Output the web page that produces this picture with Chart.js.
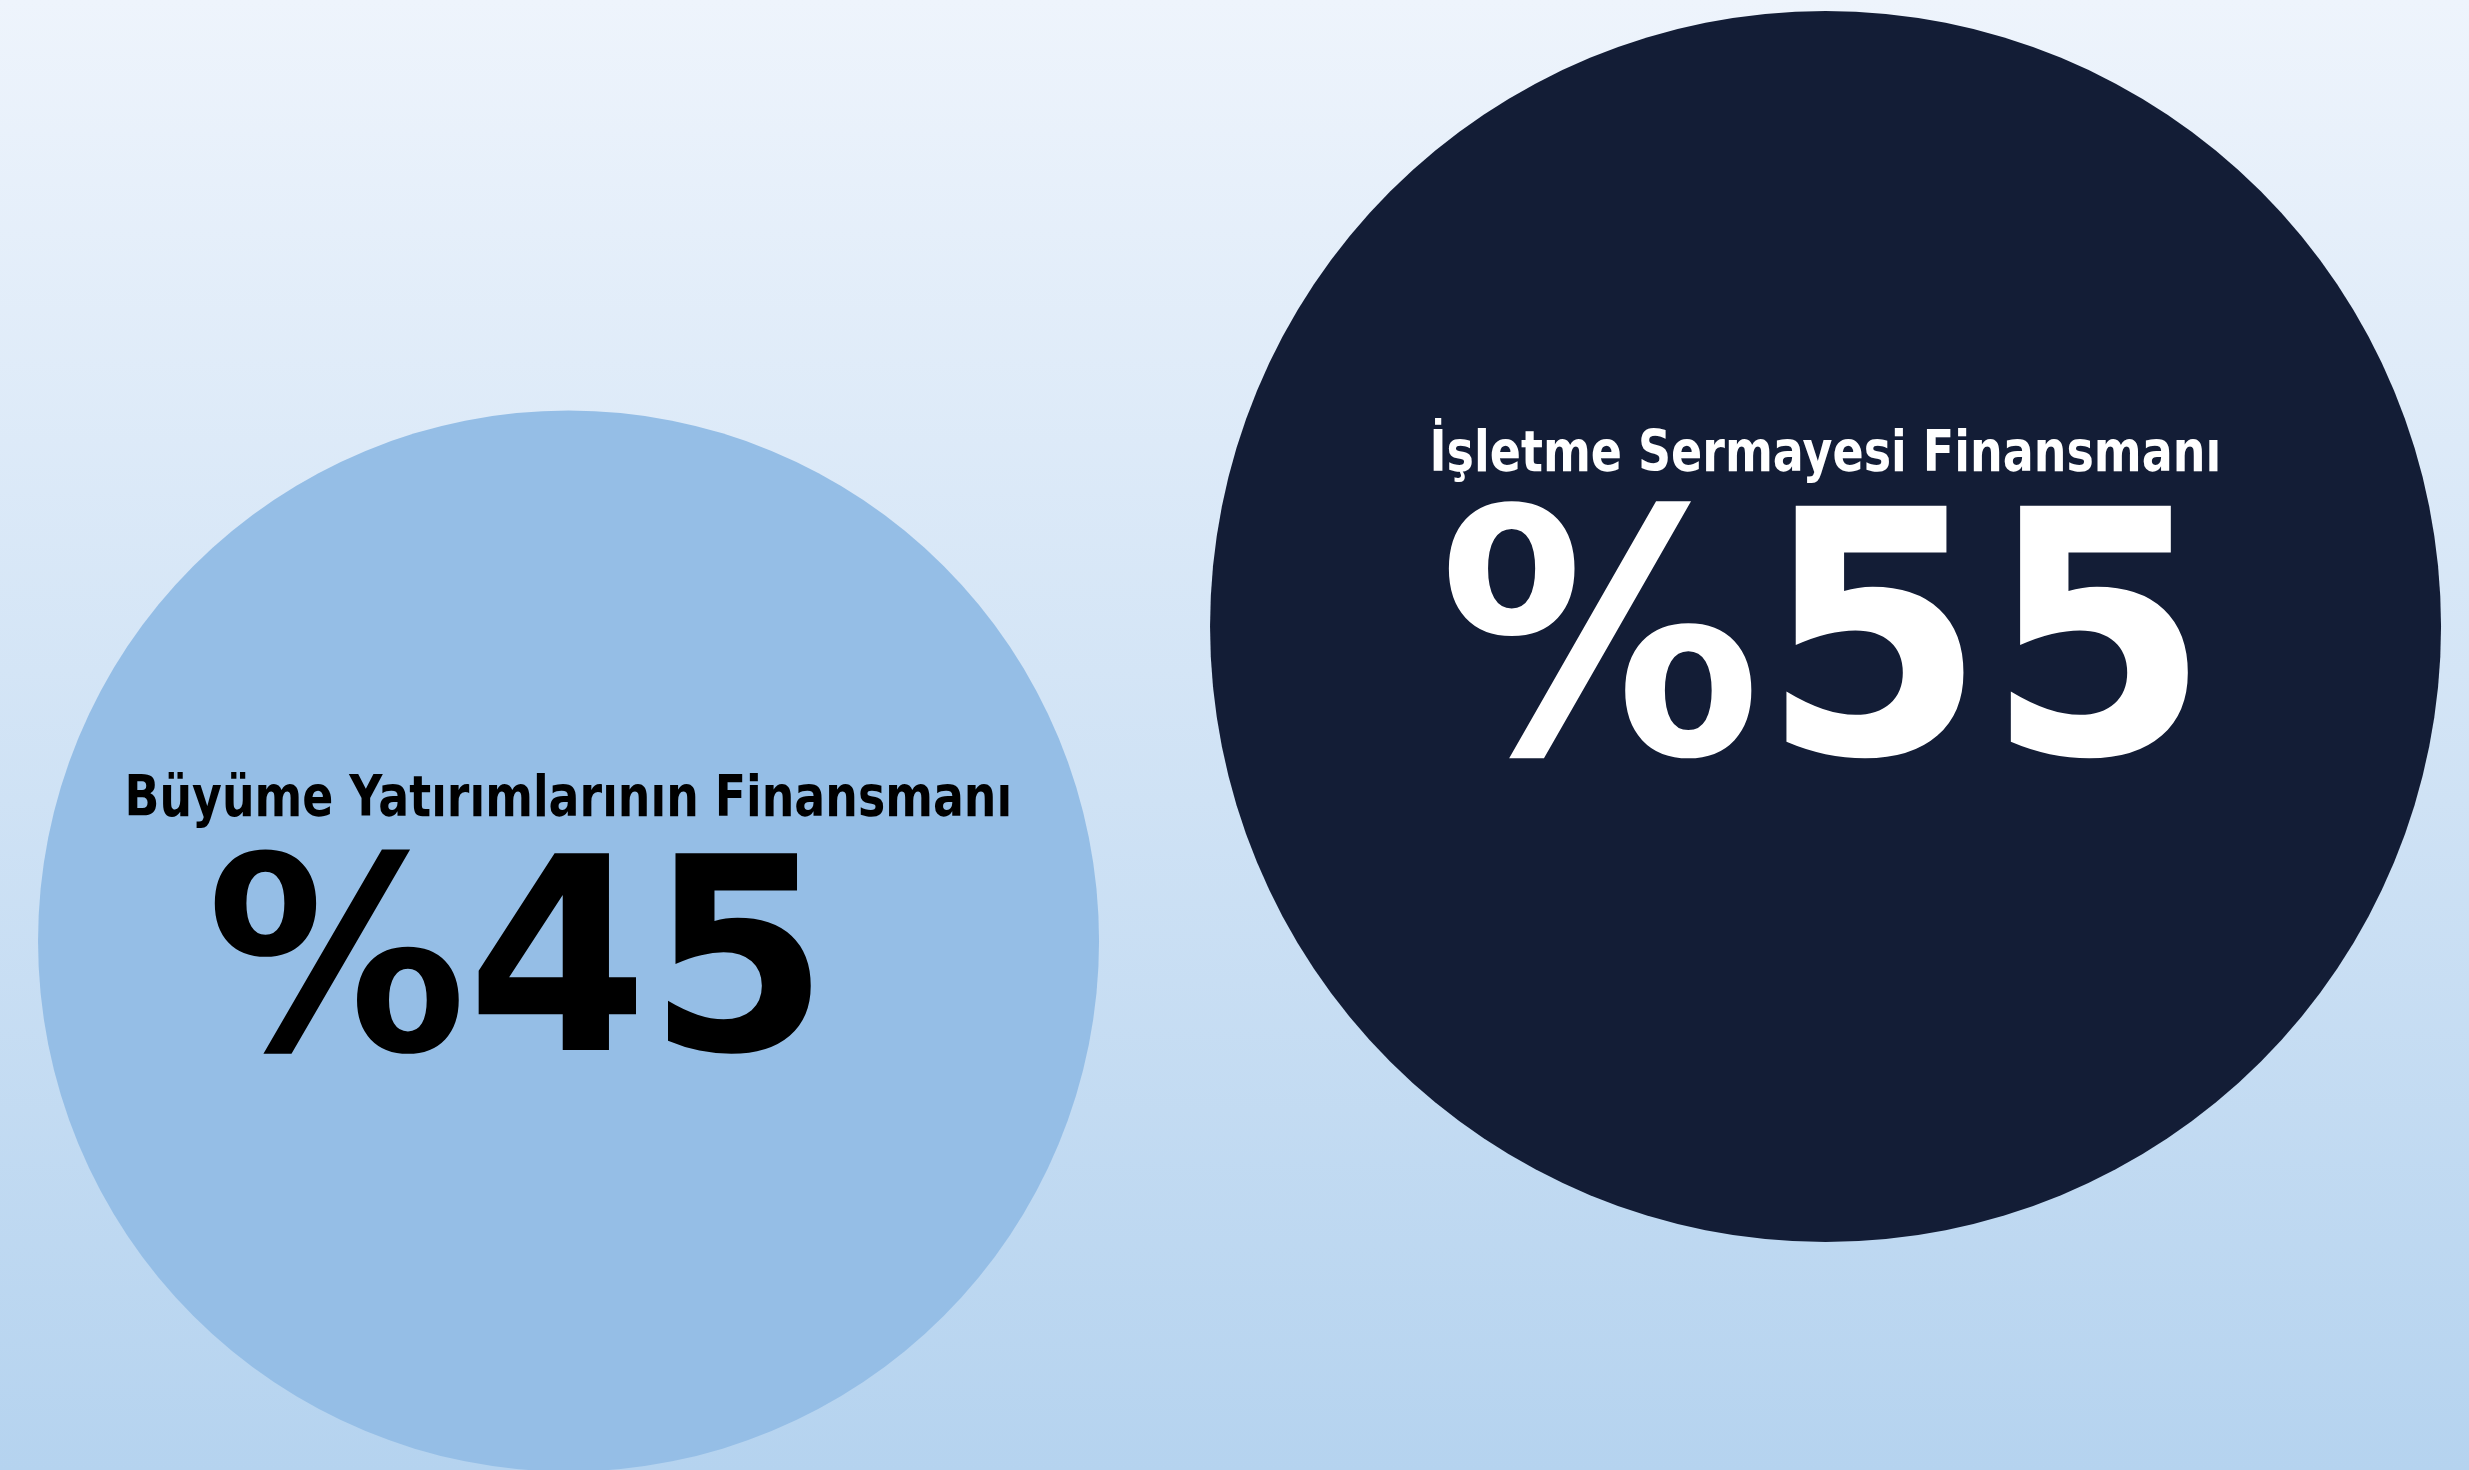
<!DOCTYPE html>
<html lang="tr">
<head>
<meta charset="utf-8">
<title>Finansman Dağılımı</title>
<script src="https://cdn.jsdelivr.net/npm/chart.js@4.4.1/dist/chart.umd.min.js"></script>
<style>
    html, body {
        margin: 0;
        padding: 0;
        width: 2469px;
        height: 1470px;
        overflow: hidden;
        background: linear-gradient(to bottom, #eef4fc 0%, #b5d3ef 100%);
    }
    #wrap {
        position: relative;
        width: 2469px;
        height: 1470px;
    }
</style>
</head>
<body>
<div id="wrap"><canvas id="shareChart"></canvas></div>
<script>
// Chart data
const categories = ['Büyüme Yatırımlarının Finansmanı', 'İşletme Sermayesi Finansmanı'];
const shares = [45, 55];

// Bubble styling (pixel radius, fill, text colour)
const bubbleRadius = [530.5, 615.5];
const bubbleColors = ['#95bee6', '#131d36'];
const textColors = ['#000000', '#ffffff'];

// Text layout relative to each bubble's centre
const textLayout = [
    { labelBase: -125, labelWidth: 880, bigBase: 109, bigSize: 270, bigWidth: 600, bigShift: -54 },
    { labelBase: -155, labelWidth: 784, bigBase: 127, bigSize: 340, bigWidth: 744, bigShift: -5 }
];

// Draws text stretched to a given ink width, centred on x
function drawStretched(ctx, text, cx, baseline, width) {
    const m = ctx.measureText(text);
    const ink = m.actualBoundingBoxLeft + m.actualBoundingBoxRight;
    const sx = width / ink;
    ctx.save();
    ctx.translate(cx, baseline);
    ctx.scale(sx, 1);
    ctx.textAlign = 'left';
    ctx.textBaseline = 'alphabetic';
    ctx.fillText(text, -ink / 2 + m.actualBoundingBoxLeft, 0);
    ctx.restore();
}

const bubbleText = {
    id: 'bubbleText',
    afterDatasetsDraw(chart) {
        const ctx = chart.ctx;
        const meta = chart.getDatasetMeta(0);
        meta.data.forEach((el, i) => {
            const lay = textLayout[i];
            ctx.save();
            ctx.fillStyle = textColors[i];
            ctx.font = 'bold 57px "DejaVu Sans"';
            drawStretched(ctx, categories[i], el.x, el.y + lay.labelBase, lay.labelWidth);
            ctx.font = 'bold ' + lay.bigSize + 'px "DejaVu Sans"';
            drawStretched(ctx, '%' + shares[i], el.x + lay.bigShift, el.y + lay.bigBase, lay.bigWidth);
            ctx.restore();
        });
    }
};

const ctx = document.getElementById('shareChart').getContext('2d');
Chart.defaults.animation = false;

new Chart(ctx, {
    type: 'bubble',
    data: {
        labels: categories,
        datasets: [{
            data: shares.map((v, i) => ({ x: i, y: v })),
            backgroundColor: bubbleColors,
            borderWidth: 0,
            radius: bubbleRadius,
            hoverRadius: 0
        }]
    },
    options: {
        responsive: true,
        maintainAspectRatio: false,
        events: [],
        layout: { padding: 0, autoPadding: false },
        clip: false,
        scales: {
            x: { type: 'linear', display: false, min: -0.4523, max: 1.5119 },
            y: { type: 'linear', display: false, min: 28.18, max: 74.92 }
        },
        plugins: {
            legend: { display: false },
            tooltip: { enabled: false }
        }
    },
    plugins: [bubbleText]
});
</script>
</body>
</html>
